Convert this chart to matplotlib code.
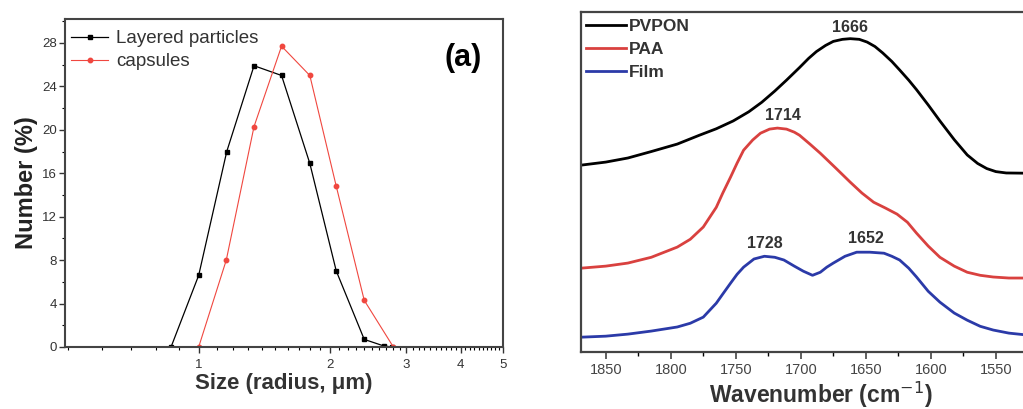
import numpy as np
import matplotlib.pyplot as plt
from matplotlib.ticker import FixedLocator, NullFormatter, MultipleLocator, NullLocator

plt.rcParams['font.family'] = ['Liberation Sans', 'DejaVu Sans']

# (a) size distribution
layered_size = [0.864, 1.0, 1.16, 1.34, 1.55, 1.80, 2.07, 2.40, 2.66, 2.78]
layered_num = [0, 6.6, 18.0, 25.9, 25.0, 16.9, 7.0, 0.7, 0.1, 0]
capsule_size = [1.0, 1.157, 1.34, 1.55, 1.80, 2.07, 2.40, 2.80]
capsule_num = [0, 8.0, 20.3, 27.7, 25.0, 14.8, 4.3, 0]

# (b) FTIR spectra (a.u.)
pvpon_wn = [1869, 1850, 1833, 1815, 1795, 1778, 1765, 1752, 1740, 1730, 1720, 1711,
            1701, 1694, 1688, 1681, 1675, 1668, 1662, 1655, 1649, 1643, 1637, 1630,
            1624, 1617, 1611, 1602, 1593, 1582, 1572, 1564, 1557, 1550, 1542, 1520]
pvpon_abs = [0.550, 0.559, 0.571, 0.590, 0.612, 0.638, 0.657, 0.680, 0.707, 0.735,
             0.768, 0.800, 0.837, 0.864, 0.884, 0.902, 0.914, 0.920, 0.922, 0.920,
             0.912, 0.899, 0.880, 0.855, 0.830, 0.800, 0.772, 0.727, 0.680, 0.625,
             0.580, 0.555, 0.540, 0.531, 0.527, 0.526]
paa_wn = [1869, 1850, 1833, 1815, 1795, 1785, 1775, 1765, 1760, 1754, 1749, 1744,
          1737, 1731, 1724, 1718, 1711, 1705, 1701, 1693, 1685, 1673, 1662, 1653,
          1644, 1635, 1626, 1618, 1611, 1602, 1593, 1582, 1572, 1562, 1552, 1540, 1520]
paa_abs = [0.247, 0.253, 0.262, 0.279, 0.309, 0.332, 0.368, 0.426, 0.468, 0.515,
           0.556, 0.594, 0.624, 0.644, 0.656, 0.659, 0.656, 0.647, 0.638, 0.612,
           0.585, 0.541, 0.500, 0.468, 0.441, 0.424, 0.406, 0.382, 0.350, 0.312,
           0.279, 0.253, 0.235, 0.226, 0.221, 0.218, 0.218]
film_wn = [1869, 1850, 1833, 1815, 1795, 1785, 1775, 1765, 1760, 1754, 1749, 1744,
           1736, 1728, 1720, 1713, 1705, 1698, 1691, 1685, 1680, 1675, 1666, 1657,
           1647, 1636, 1630, 1624, 1617, 1611, 1602, 1593, 1582, 1572, 1562, 1552,
           1540, 1520]
film_abs = [0.044, 0.047, 0.053, 0.062, 0.074, 0.085, 0.103, 0.144, 0.171, 0.203,
            0.229, 0.250, 0.274, 0.282, 0.279, 0.271, 0.253, 0.238, 0.226, 0.235,
            0.250, 0.262, 0.282, 0.294, 0.294, 0.291, 0.282, 0.271, 0.247, 0.221,
            0.179, 0.147, 0.115, 0.094, 0.076, 0.065, 0.056, 0.048]

peak_labels = ['1666', '1714', '1728', '1652']
peak_pos = [(1662, 0.955), (1714, 0.695), (1728, 0.32), (1650, 0.335)]

fig = plt.figure(figsize=(10.23, 4.09), dpi=100)

# ---- panel (a) ----
ax1 = fig.add_axes([0.0635, 0.1516, 0.4282, 0.8019])
ax1.plot(layered_size, layered_num, color='black', lw=0.9, marker='s', ms=3.5,
         label='Layered particles')
ax1.plot(capsule_size, capsule_num, color='#f0473f', lw=0.8, marker='o', ms=3.2,
         label='capsules')
ax1.set_xscale('log')
ax1.set_xlim(0.493, 5)
ax1.set_ylim(0, 30.2)
ax1.xaxis.set_major_locator(FixedLocator([1, 2, 3, 4, 5]))
ax1.xaxis.set_major_formatter(plt.FixedFormatter(['1', '2', '3', '4', '5']))
minor_x = [v / 10 for v in range(5, 50) if v % 10 != 0]
ax1.xaxis.set_minor_locator(FixedLocator(minor_x))
ax1.xaxis.set_minor_formatter(NullFormatter())
ax1.yaxis.set_major_locator(MultipleLocator(4))
ax1.yaxis.set_minor_locator(MultipleLocator(2))
ax1.tick_params(axis='both', which='major', direction='out', length=4, width=1,
                labelsize=9.5, colors='#333333', pad=2)
ax1.tick_params(axis='both', which='minor', direction='out', length=2, width=0.8)
ax1.tick_params(axis='x', which='major', pad=5)
for s in ax1.spines.values():
    s.set_linewidth(1.5)
    s.set_color('#444444')
ax1.set_xlabel('Size (radius, μm)', fontsize=16, fontweight='bold', color='#333333',
               labelpad=1)
ax1.set_ylabel('Number (%)', fontsize=17, fontweight='bold', color='#222222',
               labelpad=3)
ax1.legend(loc='upper left', bbox_to_anchor=(-0.012, 1.0), frameon=False,
           fontsize=13.5, handlelength=2.0, handletextpad=0.4, labelspacing=0.3,
           borderaxespad=0.2, labelcolor='#333333')
ax1.text(0.91, 0.88, '(a)', transform=ax1.transAxes, fontsize=22,
         fontweight='bold', ha='center', va='center')

# ---- panel (b) ----
ax2 = fig.add_axes([0.568, 0.139, 0.469, 0.8313])
ax2.plot(pvpon_wn, pvpon_abs, color='black', lw=2.0, label='PVPON')
ax2.plot(paa_wn, paa_abs, color='#d9413f', lw=2.0, label='PAA')
ax2.plot(film_wn, film_abs, color='#2b3aa8', lw=2.0, label='Film')
ax2.set_xlim(1869, 1500)
ax2.set_ylim(0, 1)
ax2.xaxis.set_major_locator(FixedLocator([1850, 1800, 1750, 1700, 1650, 1600, 1550]))
ax2.xaxis.set_minor_locator(FixedLocator([1825, 1775, 1725, 1675, 1625, 1575, 1525]))
ax2.yaxis.set_major_locator(NullLocator())
ax2.tick_params(axis='x', which='major', direction='out', length=5, width=1.2,
                labelsize=10.5, colors='#444444', pad=3)
ax2.tick_params(axis='x', which='minor', direction='out', length=3, width=1)
for s in ax2.spines.values():
    s.set_linewidth(1.6)
    s.set_color('#444444')
ax2.set_xlabel('Wavenumber (cm$^{-1}$)', fontsize=16.5, fontweight='bold',
               color='#333333', labelpad=2)
ax2.legend(loc='upper left', bbox_to_anchor=(-0.012, 1.01), frameon=False,
           handlelength=2.3, handletextpad=0.2, labelspacing=0.45,
           borderaxespad=0.2, prop={'weight': 'bold', 'size': 12.5},
           labelcolor='#333333')
for lab, (x, y) in zip(peak_labels, peak_pos):
    ax2.text(x, y, lab, fontsize=11.5, fontweight='bold', color='#333333',
             ha='center', va='center')
ax2.text(1512, 0.885, '(b)', fontsize=22, fontweight='bold', ha='center',
         va='center')

fig.savefig('out.png', dpi=100)
